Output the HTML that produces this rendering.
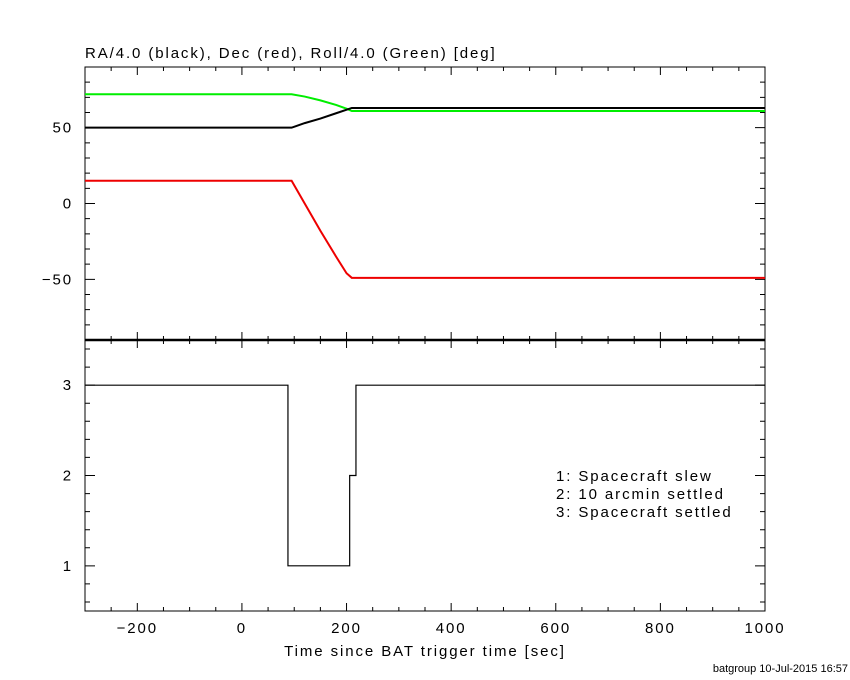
<!DOCTYPE html>
<html><head><meta charset="utf-8"><style>body{margin:0;background:#fff}svg{display:block}text{font-family:"Liberation Sans",sans-serif;font-size:15px;fill:#000;letter-spacing:1.9px}</style></head>
<body><svg id="c" width="850" height="680"></svg>
<script>
const raT=[-300,95,120,150,180,210,1000];
const raV=[50,50,53,56,59.5,63,63];
const decT=[-300,95,120,150,180,200,210,1000];
const decV=[15,15,0,-18,-35,-46,-49,-49];
const rollT=[-300,95,120,150,180,200,210,1000];
const rollV=[72,72,70.5,68,65,62.5,61,61];
const stepT=[-300,88,206,218,1000];
const stepV=[3,1,2,3,3];
const xTicks=[-200,0,200,400,600,800,1000];
const topTicks=[-50,0,50];
const botTicks=[1,2,3];
const L=85,R=765,T=67,M=340,B=611;
const X=t=>L+(t+300)/1300*(R-L);
const Y1=v=>T+(90-v)/180*(M-T);
const Y2=v=>M+(3.5-v)/3*(B-M);
const s=document.getElementById('c');const ns='http://www.w3.org/2000/svg';
function el(tag,a,name){const e=document.createElementNS(ns,tag);for(const k in a)e.setAttribute(k,a[k]);


s.appendChild(e);return e;}
el('rect',{x:L,y:T,width:R-L,height:B-T,fill:'none',stroke:'#000','stroke-width':1},'plot-frame');
el('line',{x1:L,x2:R,y1:M,y2:M,stroke:'#000','stroke-width':2.5},'panel-divider');
let d='';
for(let t=-300;t<=1000;t+=50){const x=X(t),mj=t%200==0?8:4;
d+=`M${x},${T}v${mj}M${x},${M}v${-mj}M${x},${M}v${mj}M${x},${B}v${-mj}`;}
for(let v=-90;v<=90;v+=10){const y=Y1(v),mj=v%50==0?10:5;d+=`M${L},${y}h${mj}M${R},${y}h${-mj}`;}
for(let i=3;i<=17;i++){const v=i/5,y=Y2(v),mj=(i%5==0)?10:5;d+=`M${L},${y}h${mj}M${R},${y}h${-mj}`;}
el('path',{d:d,stroke:'#000','stroke-width':1,fill:'none'},'axis-ticks');
xTicks.forEach(t=>{const e=el('text',{x:X(t),y:B+22,'text-anchor':'middle'},'x-tick-label');e.textContent=t<0?'\u2212'+(-t):t;});
topTicks.forEach(v=>{const e=el('text',{x:L-12,y:Y1(v)+5,'text-anchor':'end'},'top-y-tick-label');e.textContent=v<0?'\u2212'+(-v):v;});
botTicks.forEach(v=>{const e=el('text',{x:L-12,y:Y2(v)+5,'text-anchor':'end'},'bottom-y-tick-label');e.textContent=v;});
function line(ts,vs,Y,col,name,step){let p='';ts.forEach((t,i)=>{if(step&&i>0)p+=`L${X(t)},${Y(vs[i-1])}`;p+=(i?'L':'M')+X(t)+','+Y(vs[i]);});
el('path',{d:p,stroke:col,'stroke-width':step?1.2:2,fill:'none'},name);}
line(rollT,rollV,Y1,'#00ee00','roll-line');
line(raT,raV,Y1,'#000','ra-line');
line(decT,decV,Y1,'#ee0000','dec-line');
line(stepT,stepV,Y2,'#000','settle-status-line',true);
let e=el('text',{x:L,y:T-9},'top-panel-title');e.textContent='RA/4.0 (black), Dec (red), Roll/4.0 (Green) [deg]';
e=el('text',{x:(L+R)/2,y:656,'text-anchor':'middle'},'x-axis-title');e.textContent='Time since BAT trigger time [sec]';
['1: Spacecraft slew','2: 10 arcmin settled','3: Spacecraft settled'].forEach((t,i)=>{e=el('text',{x:556,y:481+i*18},'legend-entry');e.textContent=t;});
e=el('text',{x:848,y:672,'text-anchor':'end'},'footer-label');e.setAttribute('style','font-size:11px;letter-spacing:0');e.textContent='batgroup 10-Jul-2015 16:57';
</script></body></html>
